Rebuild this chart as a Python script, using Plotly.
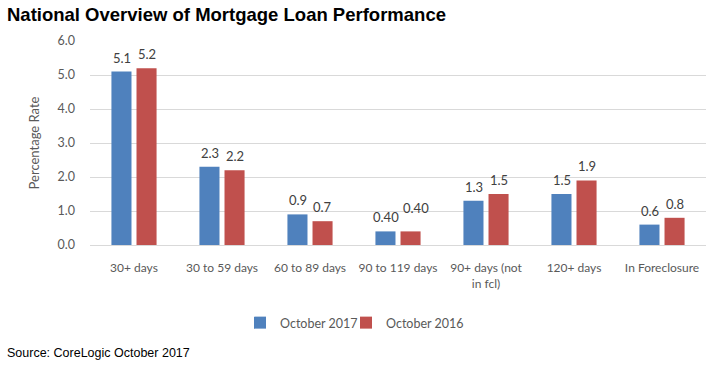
import plotly.graph_objects as go

categories = ["30+ days", "30 to 59 days", "60 to 89 days", "90 to 119 days",
              "90+ days (not<br>in fcl)", "120+ days", "In Foreclosure"]
oct_2017 = [5.1, 2.3, 0.9, 0.4, 1.3, 1.5, 0.6]
oct_2016 = [5.2, 2.2, 0.7, 0.4, 1.5, 1.9, 0.8]
labels_2017 = ["5.1", "2.3", "0.9", "0.40", "1.3", "1.5", "0.6"]
labels_2016 = ["5.2", "2.2", "0.7", "0.40", "1.5", "1.9", "0.8"]

W, H = 710, 365
L, R, T, B = 90, 4, 41, 120
pw = W - L - R
ph = H - T - B

fig = go.Figure()
series = [("October 2017", oct_2017, labels_2017, "#4F81BD", -12.5, "legend", 240),
          ("October 2016", oct_2016, labels_2016, "#C0504D", 12.5, "legend2", 346)]
annotations = []
legends = {}
for name, vals, labs, col, xs, lg, lgx in series:
    fig.add_trace(go.Bar(name=name, x=categories, y=vals, marker_color=col, legend=lg))
    legends[lg] = dict(orientation="h", x=(lgx - L) / pw, xanchor="left",
                       y=(T + ph - 323) / ph, yanchor="middle",
                       font=dict(size=12.5, color="#595959"), itemwidth=30,
                       bgcolor="rgba(0,0,0,0)")
    for i, (c, v, t) in enumerate(zip(categories, vals, labs)):
        extra_x, extra_y = 0, 0
        # Excel-style overlap avoidance: nudge the second of two colliding labels
        if xs > 0 and t == labels_2017[i] and len(t) > 3:
            extra_x, extra_y = 5, 9
        annotations.append(dict(x=c, y=v, text=t, showarrow=False, xref="x", yref="y",
                                xanchor="center", yanchor="bottom",
                                xshift=xs + extra_x, yshift=4 + extra_y,
                                font=dict(size=13, color="#404040")))

annotations += [
    dict(text="<b>National Overview of Mortgage Loan Performance</b>", xref="paper", yref="paper",
         x=(5 - L) / pw, y=(T + ph - 14) / ph, xanchor="left", yanchor="middle",
         showarrow=False,
         font=dict(family="Liberation Sans, Arial, sans-serif", size=18.5, color="black")),
    dict(text="Source: CoreLogic October 2017", xref="paper", yref="paper",
         x=(5 - L) / pw, y=(T + ph - 353) / ph, xanchor="left", yanchor="middle",
         showarrow=False,
         font=dict(family="Liberation Sans, Arial, sans-serif", size=12.5, color="black")),
]

fig.update_layout(
    template="none",
    width=W, height=H,
    margin=dict(l=L, r=R, t=T, b=B, autoexpand=False),
    paper_bgcolor="white", plot_bgcolor="white",
    font=dict(family="Lato, Noto Sans, sans-serif", color="#595959", size=12),
    barmode="group", bargap=0.43, bargroupgap=0.2,
    showlegend=True,
    legend=legends["legend"], legend2=legends["legend2"],
    yaxis=dict(range=[0, 6], dtick=1, tickformat=".1f", showgrid=True, automargin=False,
               gridcolor="#D9D9D9", gridwidth=1, zeroline=False, showline=False,
               ticks="", ticklabelstandoff=14, tickfont=dict(size=12.5),
               title=dict(text="Percentage Rate", font=dict(size=13, color="#595959"),
                          standoff=14)),
    xaxis=dict(showline=True, linecolor="#D9D9D9", ticks="", tickfont=dict(size=12),
               ticklabelstandoff=12, tickangle=0, automargin=False, showgrid=False),
    annotations=annotations,
)

fig.write_html("out.html", config={"displayModeBar": False},
               post_script="document.body.style.margin='0';document.body.style.padding='0';")
